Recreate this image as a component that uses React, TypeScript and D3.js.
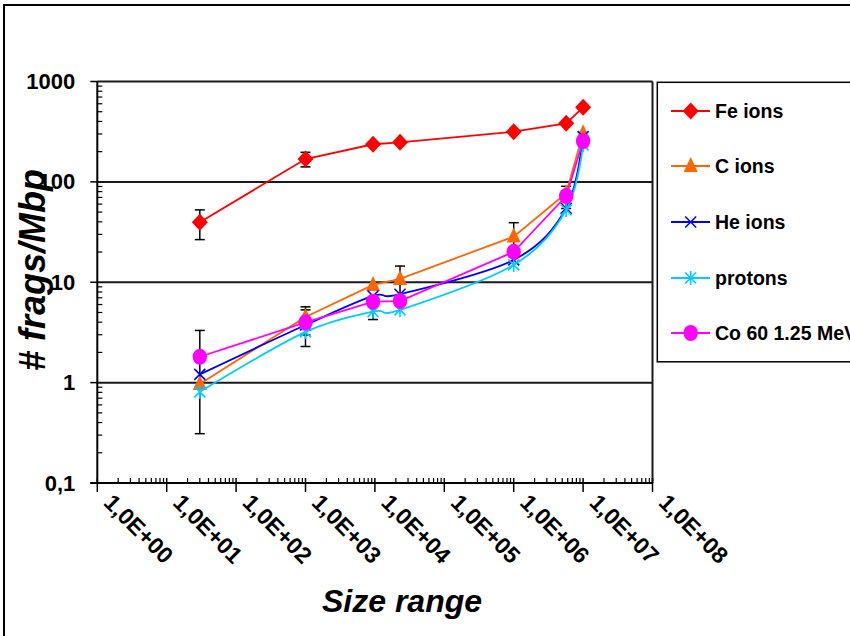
import React from "react";
import * as d3 from "d3";

const sizes = [30, 1000, 9400, 23000, 1e6, 5.7e6, 1e7];
const feIons = [39.6, 169, 237, 248, 316, 383, 553];
const cIons = [0.97, 4.5, 9.4, 10.8, 28.5, 77, 305];
const heIons = [1.21, 3.75, 7.3, 7.6, 16.7, 54.6, 282];
const protons = [0.81, 3.2, 5.1, 5.3, 14.9, 52.5, 233];
const co60 = [1.81, 3.99, 6.4, 6.5, 20.1, 72.3, 255];

const feErr = [13, 28, 0, 0, 0, 0, 0];
const cErr = [0, 0.8, 0, 3.7, 10.7, 0, 0];
const heErr = [0, 0, 0, 0, 0, 0, 0];
const protonsErr = [0, 0.22, 0.85, 0, 0, 0, 0];
const co60Err = [1.5, 1.7, 0, 0, 0, 18, 30];

const seriesNames = ["Fe ions", "C ions", "He ions", "protons", "Co 60 1.25 MeV"];
const xTickLabels = ["1,0E+00", "1,0E+01", "1,0E+02", "1,0E+03", "1,0E+04", "1,0E+05", "1,0E+06", "1,0E+07", "1,0E+08"];
const yTickValues = [0.1, 1, 10, 100, 1000];
const yTickLabels = ["0,1", "1", "10", "100", "1000"];

const FONT = "'Liberation Sans', Arial, sans-serif";

type Marker = "diamond" | "triangle" | "x" | "star" | "circle";

const series = [
  { name: seriesNames[0], values: feIons, err: feErr, color: "#FF0000", marker: "diamond" as Marker, smooth: false },
  { name: seriesNames[1], values: cIons, err: cErr, color: "#FF6600", marker: "triangle" as Marker, smooth: false },
  { name: seriesNames[2], values: heIons, err: heErr, color: "#0000FF", marker: "x" as Marker, smooth: true },
  { name: seriesNames[3], values: protons, err: protonsErr, color: "#00CCFF", marker: "star" as Marker, smooth: true },
  { name: seriesNames[4], values: co60, err: co60Err, color: "#FF00FF", marker: "circle" as Marker, smooth: false },
];

function MarkerShape({ type, x, y, color }: { type: Marker; x: number; y: number; color: string }) {
  switch (type) {
    case "diamond":
      return <path d={`M${x},${y - 8.5}L${x + 8},${y}L${x},${y + 8.5}L${x - 8},${y}Z`} fill={color} />;
    case "triangle":
      return <path d={`M${x},${y - 9}L${x + 7},${y + 6}L${x - 7},${y + 6}Z`} fill={color} />;
    case "x":
      return (
        <g stroke={color} strokeWidth={1.6}>
          <line x1={x - 5.5} y1={y - 5.5} x2={x + 5.5} y2={y + 5.5} />
          <line x1={x - 5.5} y1={y + 5.5} x2={x + 5.5} y2={y - 5.5} />
        </g>
      );
    case "star":
      return (
        <g stroke={color} strokeWidth={1.6}>
          <line x1={x - 5.5} y1={y - 5.5} x2={x + 5.5} y2={y + 5.5} />
          <line x1={x - 5.5} y1={y + 5.5} x2={x + 5.5} y2={y - 5.5} />
          <line x1={x} y1={y - 7} x2={x} y2={y + 7} />
        </g>
      );
    case "circle":
      return <ellipse cx={x} cy={y} rx={7.2} ry={8} fill={color} />;
  }
}

export default function App() {
  const left = 97.3;
  const right = 652.5;
  const top = 81.5;
  const bottom = 483;

  const x = d3.scaleLog().domain([1, 1e8]).range([left, right]);
  const y = d3.scaleLog().domain([0.1, 1000]).range([bottom, top]);

  const xMajor = d3.range(0, 9).map((k) => Math.pow(10, k));
  const xMinor: number[] = [];
  for (let k = 0; k < 8; k++) for (let m = 2; m <= 9; m++) xMinor.push(m * Math.pow(10, k));
  const yMinor: number[] = [];
  for (let k = -1; k < 3; k++) for (let m = 2; m <= 9; m++) yMinor.push(m * Math.pow(10, k));

  const straight = d3.line<[number, number]>().x((d) => d[0]).y((d) => d[1]);
  const smooth = d3
    .line<[number, number]>()
    .x((d) => d[0])
    .y((d) => d[1])
    .curve(d3.curveCatmullRom.alpha(0));

  const legendY = [111, 166, 222, 278, 333];

  return (
    <svg
      width={850}
      height={636}
      style={{ position: "absolute", left: 0, top: 0, display: "block", background: "#fff" }}
      fontFamily={FONT}
    >
      <rect x={0} y={0} width={850} height={636} fill="#fff" />
      <rect x={4} y={5} width={900} height={700} fill="none" stroke="#000" strokeWidth={2} />

      {/* gridlines */}
      {yTickValues.slice(1).map((v) => (
        <line key={v} x1={left} x2={right} y1={y(v)} y2={y(v)} stroke="#1a1a1a" strokeWidth={2} />
      ))}
      <line x1={right} x2={right} y1={top} y2={bottom} stroke="#1a1a1a" strokeWidth={2} />

      {/* axes */}
      <line x1={left} x2={left} y1={top} y2={bottom} stroke="#000" strokeWidth={2} />
      <line x1={left - 7} x2={right} y1={bottom} y2={bottom} stroke="#000" strokeWidth={2} />
      {yTickValues.map((v) => (
        <line key={"ym" + v} x1={left - 7} x2={left} y1={y(v)} y2={y(v)} stroke="#000" strokeWidth={1.5} />
      ))}
      {yMinor.map((v) => (
        <line key={"yn" + v} x1={left} x2={left + 5} y1={y(v)} y2={y(v)} stroke="#000" strokeWidth={1.2} />
      ))}
      {xMajor.map((v) => (
        <line key={"xm" + v} x1={x(v)} x2={x(v)} y1={bottom - 5} y2={bottom + 9} stroke="#000" strokeWidth={1.5} />
      ))}
      {xMinor.map((v) => (
        <line key={"xn" + v} x1={x(v)} x2={x(v)} y1={bottom - 5} y2={bottom} stroke="#000" strokeWidth={1.2} />
      ))}

      {/* y tick labels */}
      {yTickValues.map((v, i) => (
        <text
          key={"yl" + v}
          x={left - 22}
          y={y(v)}
          textAnchor="end"
          dominantBaseline="central"
          fontSize={22}
          fontWeight="bold"
        >
          {yTickLabels[i]}
        </text>
      ))}

      {/* x tick labels */}
      {xMajor.map((v, i) => (
        <text
          key={"xl" + v}
          transform={`translate(${x(v) + 17},${bottom + 9}) rotate(45)`}
          textAnchor="start"
          dominantBaseline="hanging"
          fontSize={23}
          fontWeight="bold"
        >
          {xTickLabels[i]}
        </text>
      ))}

      {/* axis titles */}
      <text x={402} y={612} textAnchor="middle" fontSize={32} fontWeight="bold" fontStyle="italic">
        Size range
      </text>
      <text
        transform={`translate(45,270) rotate(-90)`}
        textAnchor="middle"
        fontSize={36}
        fontWeight="bold"
        fontStyle="italic"
      >
        # frags/Mbp
      </text>

      {/* error bars */}
      {series.map((s) =>
        s.values.map((v, i) => {
          const e = s.err[i];
          if (!e) return null;
          const cx = x(sizes[i]);
          const y1 = y(v + e);
          const y2 = y(Math.max(v - e, 0.1001));
          return (
            <g key={s.name + "e" + i} stroke="#000" strokeWidth={1.5}>
              <line x1={cx} x2={cx} y1={y1} y2={y2} />
              <line x1={cx - 5} x2={cx + 5} y1={y1} y2={y1} />
              <line x1={cx - 5} x2={cx + 5} y1={y2} y2={y2} />
            </g>
          );
        })
      )}

      {/* series */}
      {series.map((s) => {
        const pts: [number, number][] = s.values.map((v, i) => [x(sizes[i]), y(v)]);
        return (
          <g key={s.name}>
            <path d={(s.smooth ? smooth : straight)(pts) || ""} fill="none" stroke={s.color} strokeWidth={1.8} />
            {pts.map((p, i) => (
              <MarkerShape key={i} type={s.marker} x={p[0]} y={p[1]} color={s.color} />
            ))}
          </g>
        );
      })}

      {/* legend */}
      <rect x={657.3} y={82.3} width={260} height={279.5} fill="#fff" stroke="#000" strokeWidth={1.5} />
      {series.map((s, i) => (
        <g key={"lg" + s.name}>
          <line x1={671} x2={710} y1={legendY[i]} y2={legendY[i]} stroke={s.color} strokeWidth={1.8} />
          <MarkerShape type={s.marker} x={690.7} y={legendY[i]} color={s.color} />
          <text x={715} y={legendY[i]} dominantBaseline="central" fontSize={19.5} fontWeight="bold">
            {s.name}
          </text>
        </g>
      ))}
    </svg>
  );
}
